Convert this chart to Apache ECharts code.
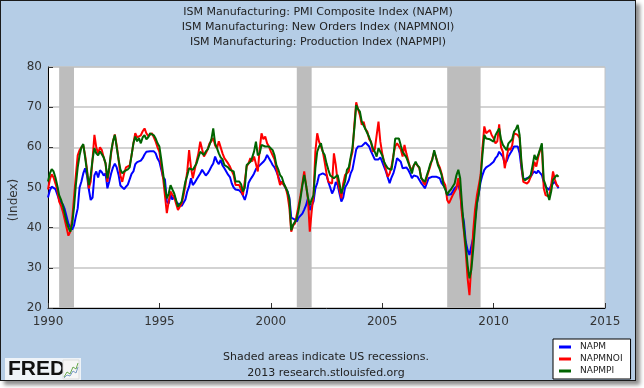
<!DOCTYPE html>
<html><head><meta charset="utf-8">
<script src="https://cdn.jsdelivr.net/npm/echarts@6/dist/echarts.min.js"></script>
<style>
html,body{margin:0;padding:0;background:#fff;}
#frame{position:absolute;left:0;top:0;width:634px;height:379px;border:1px solid #1a1a1a;box-shadow:4px 4px 4px rgba(0,0,0,0.45);}
#c{width:634px;height:379px;}
</style></head><body><div id="frame"><div id="c"></div></div>
<script>
const titleLines = [
  'ISM Manufacturing: PMI Composite Index (NAPM)',
  'ISM Manufacturing: New Orders Index (NAPMNOI)',
  'ISM Manufacturing: Production Index (NAPMPI)'
];
const seriesNames = ['NAPM', 'NAPMNOI', 'NAPMPI'];
const seriesColors = ['#0000ff', '#ff0000', '#006400'];
const yAxisName = '(Index)';
const footnoteLines = ['Shaded areas indicate US recessions.', '2013 research.stlouisfed.org'];
const firstMonth = '1990-01';
const xTicks = [1990, 1995, 2000, 2005, 2010, 2015];
const yTicks = [20, 30, 40, 50, 60, 70, 80];
const recessionStart = ['1990-07', '2001-03', '2007-12'];
const recessionEnd = ['1991-03', '2001-11', '2009-06'];

// monthly values Jan 1990 - Dec 2012
const napm = [
47.5,49.3,50.2,50.0,49.6,49.2,47.0,46.3,45.8,44.6,42.8,41.0,
40.1,39.5,40.5,42.8,44.8,50.0,51.5,53.5,54.8,53.0,49.5,46.9,
47.5,53.0,54.0,52.5,54.3,53.8,53.0,53.5,49.8,51.5,53.5,55.0,
55.9,55.0,53.2,50.5,50.8,49.6,50.2,50.7,51.0,53.4,54.0,55.8,
56.3,56.0,56.7,57.3,58.2,58.9,58.6,59.0,59.3,59.0,58.5,57.2,
56.4,54.5,52.5,52.0,46.5,46.0,48.2,47.0,48.0,46.5,46.0,45.6,
45.4,45.8,47.0,49.0,50.2,52.3,50.6,51.2,52.0,52.3,53.5,54.4,
54.0,53.0,53.5,54.3,55.2,56.0,57.7,56.5,55.8,56.9,55.5,54.8,
54.4,53.2,52.6,51.0,50.0,49.5,49.1,49.3,48.8,48.0,46.9,48.5,
51.1,52.0,52.7,53.5,54.6,55.0,55.5,55.8,56.4,57.0,58.1,57.3,
56.5,55.6,55.0,54.0,52.8,51.4,51.5,50.8,49.8,49.0,47.5,42.5,
42.3,42.0,41.5,42.5,42.2,43.5,44.5,45.6,47.3,44.4,45.5,46.5,
49.8,51.1,53.1,53.2,53.5,53.6,53.0,51.4,50.0,48.5,49.5,51.4,
50.6,48.5,46.5,47.5,50.0,50.8,51.8,53.5,54.5,57.0,59.5,60.2,
60.6,60.3,60.5,61.2,61.0,60.2,59.0,58.0,57.0,56.9,57.0,57.5,
56.4,55.2,54.0,52.5,51.1,52.5,53.5,55.2,57.3,57.0,56.4,54.8,
54.8,55.0,54.4,53.5,52.3,53.0,53.1,52.7,52.5,51.1,50.5,49.8,
51.0,52.3,52.5,52.7,52.7,52.7,52.5,52.3,51.1,50.5,49.8,48.1,
48.5,48.3,49.0,49.8,50.2,50.6,49.0,44.0,41.5,36.5,34.4,33.2,
33.6,37.5,42.0,46.0,48.5,51.4,53.1,54.4,55.0,55.3,55.6,56.0,
56.4,57.3,57.8,58.9,58.5,57.7,56.0,56.5,57.7,58.5,59.3,60.2,
60.2,60.2,58.5,54.8,51.9,52.0,52.3,52.5,52.7,53.5,54.0,53.5,
54.2,54.4,53.1,51.4,50.2,49.8,49.4,50.6,51.0,51.4,51.2,49.8
];
const napmnoi = [
49.5,52.0,53.3,52.5,51.0,49.5,46.5,45.5,44.0,42.0,40.0,38.0,
39.0,42.0,47.5,53.0,58.0,59.3,60.0,60.5,58.0,54.5,49.8,51.5,
57.0,63.1,60.0,58.5,60.0,59.3,57.5,56.0,51.4,54.5,58.5,61.5,
63.2,60.5,57.0,53.0,51.4,53.5,55.0,55.0,55.5,58.0,61.0,63.5,
62.5,62.3,63.0,64.0,64.7,63.5,62.8,63.1,63.5,62.5,61.4,60.0,
58.9,55.5,52.3,48.0,43.6,46.5,49.0,48.2,47.5,47.3,44.4,44.8,
46.0,48.0,50.6,54.0,59.3,55.0,52.3,54.4,56.5,58.5,61.4,59.5,
57.7,58.5,59.5,61.0,61.5,62.3,60.5,59.8,61.5,60.0,58.5,57.3,
57.3,56.0,55.2,55.0,53.1,50.6,50.3,50.6,49.5,48.1,48.5,55.2,
56.0,57.3,56.5,57.7,57.7,54.0,59.5,63.5,62.0,62.7,61.0,60.2,
59.0,58.9,57.0,54.8,52.5,50.6,51.5,50.6,50.0,48.1,45.0,39.0,
40.5,41.0,43.2,45.5,48.1,51.0,54.0,50.5,47.3,39.0,44.0,48.1,
58.9,63.5,61.4,61.8,59.0,56.4,53.5,51.4,51.0,51.0,58.5,55.6,
51.4,49.5,47.3,51.0,53.1,53.5,54.0,57.0,58.9,65.6,71.2,69.5,
68.0,65.6,66.4,64.5,63.9,62.0,61.4,58.9,59.5,59.8,66.4,61.4,
58.5,56.4,54.5,52.7,53.5,55.2,58.0,60.2,61.0,61.0,59.5,57.7,
60.6,58.5,56.8,55.0,54.4,55.5,56.0,55.5,54.8,52.5,51.4,50.6,
52.5,54.0,55.5,57.3,58.9,57.5,56.0,55.0,53.5,51.5,50.6,46.9,
46.1,46.5,48.1,48.5,49.8,52.3,49.0,43.2,39.0,34.0,27.4,23.2,
31.0,39.0,44.5,48.0,50.5,53.1,59.8,65.2,63.5,63.1,64.3,63.0,
62.3,61.0,61.5,65.7,60.0,58.9,54.8,55.2,59.8,59.3,60.5,63.5,
63.5,63.1,62.3,55.6,51.4,51.0,51.0,51.5,52.7,54.0,56.4,55.2,
57.5,59.3,60.2,49.8,48.1,48.5,47.7,50.6,54.0,52.0,50.6,50.2
];
const napmpi = [
51.5,53.5,54.6,54.0,52.5,50.5,48.1,47.0,45.5,43.5,41.5,40.0,
39.0,41.0,45.0,50.6,55.0,58.0,60.0,60.8,57.5,54.0,50.6,53.0,
57.0,59.8,58.5,58.0,59.0,58.9,57.5,56.0,52.3,55.0,59.0,61.5,
63.1,60.0,57.0,54.5,53.5,54.0,54.0,54.5,55.0,58.0,61.0,62.7,
61.5,62.3,61.0,62.5,63.0,62.0,62.5,63.5,63.9,63.0,62.2,61.0,
60.2,57.0,53.5,50.0,47.3,48.5,50.6,49.5,48.5,48.1,45.2,44.8,
46.5,49.0,51.5,53.0,54.8,55.0,54.4,54.8,56.0,57.5,58.9,58.5,
58.1,59.0,59.5,60.6,62.0,64.7,61.0,59.8,58.5,57.5,57.0,55.6,
55.6,55.0,54.4,54.0,54.0,51.5,51.5,51.5,50.8,49.0,50.0,55.6,
56.0,56.4,57.5,59.0,61.4,58.0,58.5,60.6,60.2,60.2,60.0,60.2,
60.0,59.3,58.0,55.6,54.5,53.1,52.5,51.0,51.0,49.0,47.0,39.4,
40.7,41.5,42.3,44.5,47.3,50.5,53.1,50.6,47.5,45.6,47.0,48.1,
54.8,58.9,60.2,61.0,58.9,58.1,56.0,54.4,53.0,52.7,52.3,52.5,
53.1,51.0,48.5,50.0,51.5,54.4,55.0,57.5,60.0,64.7,70.5,69.5,
68.9,66.4,66.0,64.5,63.5,62.5,62.2,59.8,58.9,57.7,59.8,58.9,
58.0,56.4,55.5,54.8,54.5,54.4,57.5,62.2,62.0,62.2,60.5,58.9,
58.5,57.5,57.3,55.0,53.5,55.5,56.4,55.5,55.0,52.3,52.0,51.4,
53.0,54.4,56.0,56.9,59.3,57.5,55.6,54.5,53.1,50.6,49.5,48.1,
49.0,49.5,49.8,51.0,53.1,54.4,52.3,45.6,39.8,35.7,30.7,27.4,
29.5,34.5,40.5,46.0,48.5,52.3,58.1,63.1,62.2,61.8,62.0,62.0,
61.4,63.0,63.9,64.7,62.0,60.6,60.2,59.3,61.0,60.6,62.0,63.9,
64.5,65.6,63.1,56.4,52.3,51.8,51.5,52.5,53.1,55.5,58.1,56.9,
58.1,59.5,61.0,51.9,50.6,48.5,46.9,49.0,51.9,52.5,53.1,52.7
];

function monthToYear(s) { const p = s.split('-'); return +p[0] + (+p[1] - 1) / 12; }
const startYear = monthToYear(firstMonth);
function toPairs(arr) { return arr.map((v, i) => [startYear + i / 12, v]); }

const FONT = 'DejaVu Sans';
const chart = echarts.init(document.getElementById('c'), null, { renderer: 'canvas' });

const lineSeries = [napm, napmnoi, napmpi].map((arr, k) => ({
  name: seriesNames[k], type: 'line', data: toPairs(arr),
  showSymbol: false, symbol: 'none',
  lineStyle: { width: 2, color: seriesColors[k] },
  itemStyle: { color: seriesColors[k] },
  z: 3 + k, silent: true
}));

const recessionSeries = {
  type: 'line', data: [], silent: true, z: 1,
  markArea: {
    silent: true,
    itemStyle: { color: '#bdbdbd', opacity: 1 },
    data: recessionStart.map((s, i) => [{ xAxis: monthToYear(s) }, { xAxis: monthToYear(recessionEnd[i]) }])
  }
};

chart.setOption({
  animation: false,
  backgroundColor: '#b5cde6',
  grid: { left: 47, top: 66, width: 557, height: 241, show: true, backgroundColor: '#ffffff', borderColor: '#c4c4c4', borderWidth: 1 },
  xAxis: {
    type: 'value', min: xTicks[0], max: xTicks[xTicks.length - 1], interval: 5,
    axisLine: { onZero: false, lineStyle: { color: '#000', width: 1 } },
    axisTick: { inside: true, length: 5, lineStyle: { color: '#333' } },
    splitLine: { show: false },
    axisLabel: { color: '#333', fontFamily: FONT, fontSize: 12, margin: 8, formatter: v => xTicks.includes(v) ? String(v) : '' }
  },
  yAxis: {
    type: 'value', min: yTicks[0], max: yTicks[yTicks.length - 1], interval: 10,
    axisLine: { show: true, lineStyle: { color: '#000', width: 1 } },
    axisTick: { show: true, inside: true, length: 5, lineStyle: { color: '#333' } },
    splitLine: { show: true, lineStyle: { color: '#c4c4c4', width: 1.5 } },
    axisLabel: { color: '#333', fontFamily: FONT, fontSize: 12, margin: 6 }
  },
  legend: {
    data: seriesNames, orient: 'vertical', left: 552, top: 338,
    backgroundColor: '#ffffff', borderColor: '#000', borderWidth: 1,
    padding: [3, 8, 3, 6], itemGap: 2, itemWidth: 12, itemHeight: 3, icon: 'rect',
    textStyle: { fontFamily: FONT, fontSize: 9, color: '#222', padding: [0, 0, 0, 4], lineHeight: 10 },
    selectedMode: false
  },
  graphic: [
    { type: 'text', left: 'center', top: 4, style: { text: titleLines.join('\n'), fontFamily: FONT, fontSize: 11, lineHeight: 15, fill: '#222', textAlign: 'center' } },
    { type: 'text', x: 13, y: 199, rotation: Math.PI / 2, style: { text: yAxisName, fontFamily: FONT, fontSize: 12, fill: '#333', textAlign: 'center', textVerticalAlign: 'middle' } },
    { type: 'text', x: 325, y: 348, style: { text: footnoteLines.join('\n'), fontFamily: FONT, fontSize: 11, lineHeight: 16, fill: '#222', textAlign: 'center' } },
    { type: 'rect', shape: { x: 4, y: 357, width: 76, height: 23 }, style: { fill: '#eef3f8' } },
    { type: 'text', x: 7, y: 358, style: { text: 'FRED', fontFamily: 'Liberation Sans', fontWeight: 'bold', fontSize: 21, fill: '#111' } },
    { type: 'rect', shape: { x: 62, y: 359, width: 16, height: 19 }, style: { fill: '#f6f6f6', stroke: '#dddddd', lineWidth: 1 } },
    { type: 'polyline', shape: { points: [[63, 376], [66, 371], [69, 373], [72, 366], [75, 368], [77, 362]] }, style: { stroke: '#6aa84f', lineWidth: 1, fill: null } },
    { type: 'polyline', shape: { points: [[63, 377], [66, 374], [69, 375], [72, 370], [75, 372], [77, 366]] }, style: { stroke: '#7a9cc6', lineWidth: 1, fill: null } }
  ],
  series: [recessionSeries].concat(lineSeries)
});
</script></body></html>
